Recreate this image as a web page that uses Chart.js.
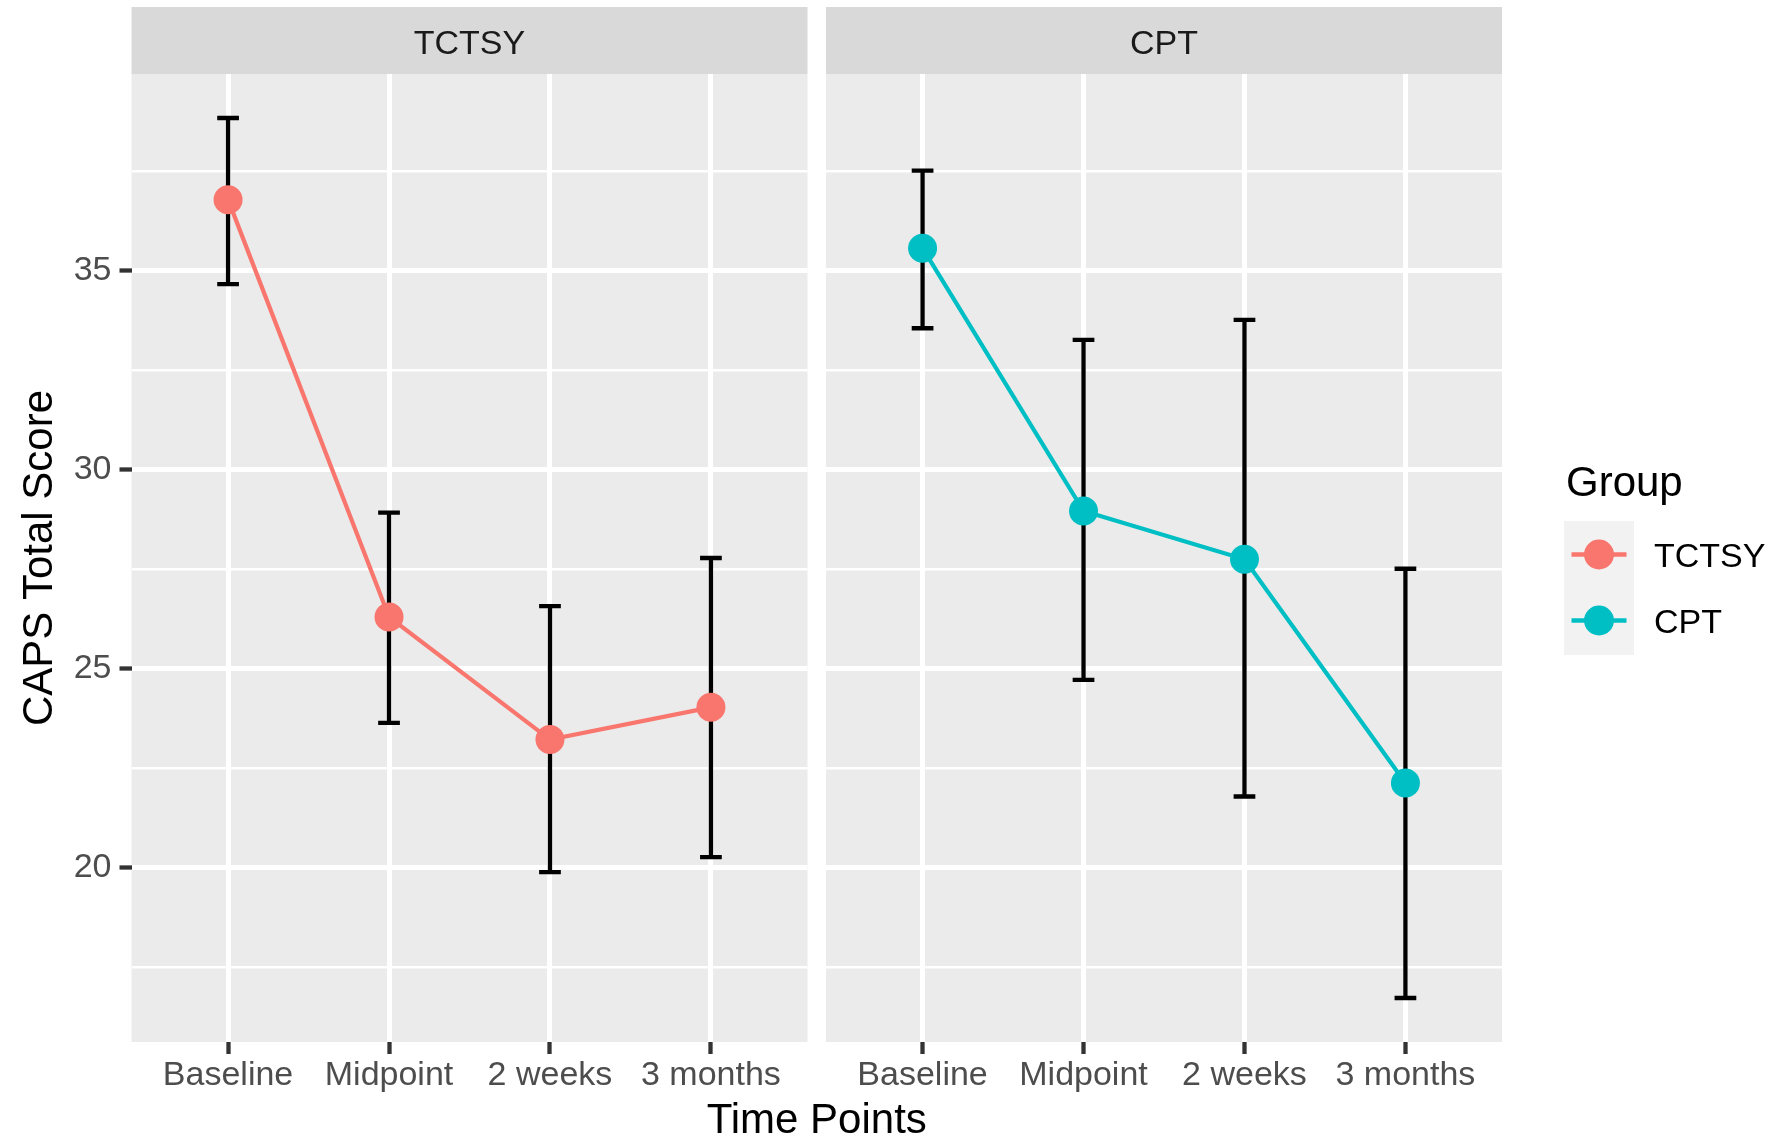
<!DOCTYPE html>
<html>
<head>
<meta charset="utf-8">
<script src="https://cdn.jsdelivr.net/npm/chart.js@4.4.1/dist/chart.umd.min.js"></script>
<style>
html,body{margin:0;padding:0;background:#ffffff;}
#wrap{position:relative;width:1772px;height:1137px;overflow:hidden;}
#wrap canvas{position:absolute;left:0;top:0;}
</style>
</head>
<body>
<div id="wrap">
<canvas id="c1" width="1772" height="1137"></canvas>
<canvas id="c2" width="1772" height="1137"></canvas>
</div>
<script>
// ---------- data ----------
const timePoints = ['Baseline', 'Midpoint', '2 weeks', '3 months'];
const groups = ['TCTSY', 'CPT'];
const tctsyMean  = [36.78, 26.30, 23.22, 24.03];
const tctsyLower = [34.66, 23.64, 19.89, 20.27];
const tctsyUpper = [38.83, 28.92, 26.57, 27.78];
const cptMean    = [35.56, 28.96, 27.75, 22.13];
const cptLower   = [33.55, 24.72, 21.79, 16.73];
const cptUpper   = [37.51, 33.26, 33.76, 27.51];
const yMajorTicks = [20, 25, 30, 35];
const yMinorTicks = [17.5, 22.5, 27.5, 32.5, 37.5];
const groupColors = ['#F8766D', '#00BFC4'];
const yTitle = 'CAPS Total Score';
const xTitle = 'Time Points';
const legendTitle = 'Group';

// ---------- shared settings ----------
const FONT = '"Liberation Sans", Arial, Helvetica, sans-serif';
Chart.defaults.font.family = FONT;
const W = 1772, H = 1137;
const allLow = Math.min(...tctsyLower, ...cptLower);
const allHigh = Math.max(...tctsyUpper, ...cptUpper);
const pad = (allHigh - allLow) * 0.05;
const yMin = allLow - pad, yMax = allHigh + pad;
const isMajor = v => yMajorTicks.includes(v);

const panels = [
  {id: 'c1', name: groups[0], mean: tctsyMean, lo: tctsyLower, hi: tctsyUpper, color: groupColors[0],
   padding: {top: 74, left: 0, right: W - 807.5, bottom: 0}, showY: true, legend: false, xTitle: true},
  {id: 'c2', name: groups[1], mean: cptMean, lo: cptLower, hi: cptUpper, color: groupColors[1],
   padding: {top: 74, left: 826, right: W - 1502, bottom: 0}, showY: false, legend: true, xTitle: false}
];

const facetPlugin = {
  id: 'facet',
  beforeDraw(chart, args, opts) {
    const {ctx, chartArea: a} = chart;
    ctx.save();
    ctx.fillStyle = '#EBEBEB';
    ctx.fillRect(a.left, a.top, a.right - a.left, a.bottom - a.top);
    // strip
    ctx.fillStyle = '#D9D9D9';
    ctx.fillRect(a.left, 7, a.right - a.left, a.top - 7);
    ctx.fillStyle = '#1A1A1A';
    ctx.font = '34px ' + FONT;
    ctx.textAlign = 'center';
    ctx.textBaseline = 'alphabetic';
    ctx.fillText(opts.name, (a.left + a.right) / 2, 54);
    ctx.restore();
  },
  beforeDatasetsDraw(chart, args, opts) {
    const {ctx} = chart;
    const xs = chart.scales.x, ys = chart.scales.y;
    ctx.save();
    ctx.strokeStyle = '#000000';
    ctx.lineWidth = 4.3;
    ctx.lineCap = 'butt';
    const hw = 0.0675;
    opts.lo.forEach((lo, i) => {
      const hi = opts.hi[i];
      const xc = xs.getPixelForValue(i);
      const xl = xs.getPixelForValue(i - hw), xr = xs.getPixelForValue(i + hw);
      const yl = ys.getPixelForValue(lo), yh = ys.getPixelForValue(hi);
      ctx.beginPath();
      ctx.moveTo(xc, yl); ctx.lineTo(xc, yh);
      ctx.moveTo(xl, yl); ctx.lineTo(xr, yl);
      ctx.moveTo(xl, yh); ctx.lineTo(xr, yh);
      ctx.stroke();
    });
    ctx.restore();
  },
  afterDraw(chart, args, opts) {
    const {ctx} = chart;
    ctx.save();
    if (opts.xTitle) {
      ctx.fillStyle = '#000000';
      ctx.font = '42px ' + FONT;
      ctx.textAlign = 'center';
      ctx.textBaseline = 'alphabetic';
      ctx.fillText(xTitle, (131.5 + 1502) / 2, 1133);
    }
    if (opts.legend) {
      ctx.fillStyle = '#000000';
      ctx.font = '42px ' + FONT;
      ctx.textAlign = 'left';
      ctx.textBaseline = 'alphabetic';
      ctx.fillText(legendTitle, 1566, 496);
      ctx.fillStyle = '#F2F2F2';
      ctx.fillRect(1564, 521, 70, 134);
      groups.forEach((g, k) => {
        const cy = 554.5 + k * 66;
        ctx.strokeStyle = groupColors[k];
        ctx.lineWidth = 4.5;
        ctx.beginPath();
        ctx.moveTo(1571.5, cy); ctx.lineTo(1626.5, cy);
        ctx.stroke();
        ctx.fillStyle = groupColors[k];
        ctx.beginPath();
        ctx.arc(1599, cy, 15, 0, Math.PI * 2);
        ctx.fill();
        ctx.fillStyle = '#000000';
        ctx.font = '34px ' + FONT;
        ctx.fillText(g, 1654, cy + 12.5);
      });
    }
    ctx.restore();
  }
};

panels.forEach(p => {
  new Chart(document.getElementById(p.id), {
    type: 'line',
    data: {
      datasets: [{
        label: p.name,
        data: p.mean.map((v, i) => ({x: i, y: v})),
        borderColor: p.color,
        backgroundColor: p.color,
        borderWidth: 4.2,
        pointRadius: 14.5,
        pointBorderWidth: 0,
        pointBackgroundColor: p.color,
        tension: 0,
        clip: false
      }]
    },
    options: {
      responsive: false,
      animation: false,
      events: [],
      layout: {padding: p.padding},
      plugins: {
        legend: {display: false},
        tooltip: {enabled: false},
        facet: {name: p.name, lo: p.lo, hi: p.hi, legend: p.legend, xTitle: p.xTitle}
      },
      scales: {
        x: {
          type: 'linear',
          min: -0.6,
          max: 3.6,
          afterBuildTicks: s => { s.ticks = timePoints.map((_, i) => ({value: i})); },
          afterFit: s => { s.height = 95; },
          border: {display: false},
          grid: {color: '#FFFFFF', lineWidth: 5, tickColor: '#333333', tickLength: 12, tickWidth: 4.3, drawTicks: true},
          ticks: {
            autoSkip: false, maxRotation: 0, minRotation: 0,
            color: '#4D4D4D', padding: 4.5,
            font: {size: 34, lineHeight: 1},
            callback: v => timePoints[v]
          }
        },
        y: {
          type: 'linear',
          min: yMin,
          max: yMax,
          display: true,
          afterBuildTicks: s => { s.ticks = [...yMinorTicks, ...yMajorTicks].sort((a, b) => a - b).map(v => ({value: v})); },
          afterFit: s => { s.width = p.showY ? 131.5 : 0; },
          border: {display: false},
          grid: {
            color: '#FFFFFF',
            lineWidth: c => (c.tick && isMajor(c.tick.value)) ? 5 : 2.5,
            drawTicks: p.showY,
            tickLength: 12,
            tickWidth: 4.3,
            tickColor: c => (c.tick && isMajor(c.tick.value)) ? '#333333' : 'rgba(0,0,0,0)'
          },
          ticks: {
            display: p.showY,
            color: '#4D4D4D',
            padding: 8,
            font: {size: 34},
            callback: v => isMajor(v) ? String(v) : ''
          },
          title: {
            display: p.showY,
            text: yTitle,
            color: '#000000',
            font: {size: 42},
            padding: {top: 15, bottom: 0}
          }
        }
      }
    },
    plugins: [facetPlugin]
  });
});
</script>
</body>
</html>
